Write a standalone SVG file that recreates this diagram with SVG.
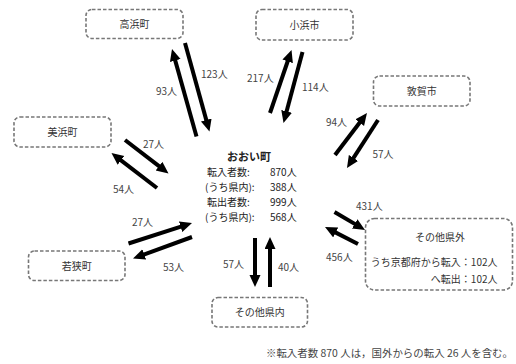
<svg xmlns="http://www.w3.org/2000/svg" width="516" height="364" viewBox="0 0 516 364">
<defs>
<marker id="ah" markerUnits="userSpaceOnUse" markerWidth="14" markerHeight="12" refX="2" refY="5.5" orient="auto">
<path d="M0,0 L12,5.5 L0,11 z" fill="#000"/>
</marker>
<style>
.box{fill:#fff;stroke:#777;stroke-width:1.6;stroke-dasharray:3.5 2}
.bt{font-family:"Noto Sans CJK JP","Noto Sans",sans-serif;font-size:10px;fill:#333;text-anchor:middle}
.lb{font-family:"Noto Sans CJK JP","Noto Sans",sans-serif;font-size:10px;fill:#444}
.ct{font-family:"Noto Sans CJK JP","Noto Sans",sans-serif;font-size:10px;fill:#222}
.ar{stroke:#000;stroke-width:4;fill:none;marker-end:url(#ah)}
</style>
</defs>
<rect width="516" height="364" fill="#fff"/>
<g id="takahama"><rect class="box" x="86" y="9.5" width="97" height="29" rx="6"/><text class="bt" x="134.5" y="28">高浜町</text></g>
<g id="mihama"><rect class="box" x="14" y="117" width="97" height="30" rx="6"/><text class="bt" x="62.5" y="135.5">美浜町</text></g>
<g id="obama"><rect class="box" x="256" y="9.5" width="97" height="30.5" rx="6"/><text class="bt" x="304.5" y="28.5">小浜市</text></g>
<g id="tsuruga"><rect class="box" x="373.5" y="76" width="96.5" height="30" rx="6"/><text class="bt" x="421.7" y="95">敦賀市</text></g>
<g id="wakasa"><rect class="box" x="28.5" y="251" width="96.5" height="29.5" rx="6"/><text class="bt" x="76.7" y="269.5">若狭町</text></g>
<g id="kennai"><rect class="box" x="212" y="297.5" width="95.5" height="29.5" rx="6"/><text class="bt" x="259.7" y="316">その他県内</text></g>
<g id="kengai"><rect class="box" x="365.5" y="218.5" width="147" height="71.5" rx="9"/>
<text class="bt" x="440" y="241">その他県外</text>
<text class="bt" x="497.5" y="266" style="text-anchor:end">うち京都府から転入：102人</text>
<text class="bt" x="497.5" y="283" style="text-anchor:end">へ転出：102人</text></g>
<g id="ooi">
<text class="ct" x="249" y="161" style="font-weight:bold;font-size:11px;text-anchor:middle">おおい町</text>
<text class="ct" x="207" y="175.5">転入者数:</text><text class="ct" x="270" y="175.5">870人</text>
<text class="ct" x="205" y="190.5">(うち県内):</text><text class="ct" x="270" y="190.5">388人</text>
<text class="ct" x="207" y="205.5">転出者数:</text><text class="ct" x="270" y="205.5">999人</text>
<text class="ct" x="205" y="220.5">(うち県内):</text><text class="ct" x="270" y="220.5">568人</text>
</g>
<g id="connectors">
<line class="ar" x1="196.5" y1="136.5" x2="174.7" y2="58.6"/>
<line class="ar" x1="185" y1="43" x2="206.8" y2="121.9"/>
<line class="ar" x1="270" y1="113" x2="288.3" y2="59.5"/>
<line class="ar" x1="302.5" y1="52" x2="286.1" y2="113.3"/>
<line class="ar" x1="335" y1="155" x2="360.9" y2="121"/>
<line class="ar" x1="378" y1="120" x2="352.4" y2="159.6"/>
<line class="ar" x1="334.5" y1="212" x2="356.4" y2="224.9"/>
<line class="ar" x1="358" y1="244" x2="333.9" y2="231.6"/>
<line class="ar" x1="255" y1="238" x2="255" y2="277"/>
<line class="ar" x1="270" y1="287" x2="270" y2="247"/>
<line class="ar" x1="128.5" y1="243.5" x2="182.5" y2="226.1"/>
<line class="ar" x1="192" y1="237" x2="142.4" y2="255.1"/>
<line class="ar" x1="125" y1="140" x2="160.6" y2="167.4"/>
<line class="ar" x1="157" y1="188" x2="119.4" y2="159.1"/>
<text class="lb" x="156" y="95">93人</text>
<text class="lb" x="201" y="78">123人</text>
<text class="lb" x="247" y="82">217人</text>
<text class="lb" x="302" y="91">114人</text>
<text class="lb" x="326" y="126">94人</text>
<text class="lb" x="372.5" y="158">57人</text>
<text class="lb" x="143" y="148">27人</text>
<text class="lb" x="113" y="193">54人</text>
<text class="lb" x="132" y="226">27人</text>
<text class="lb" x="163" y="271">53人</text>
<text class="lb" x="223" y="268">57人</text>
<text class="lb" x="278" y="271">40人</text>
<text class="lb" x="356" y="210">431人</text>
<text class="lb" x="326" y="261">456人</text>
</g>
<text class="lb" x="266" y="357" textLength="247" lengthAdjust="spacingAndGlyphs">※転入者数 870 人は，国外からの転入 26 人を含む。</text>
</svg>
